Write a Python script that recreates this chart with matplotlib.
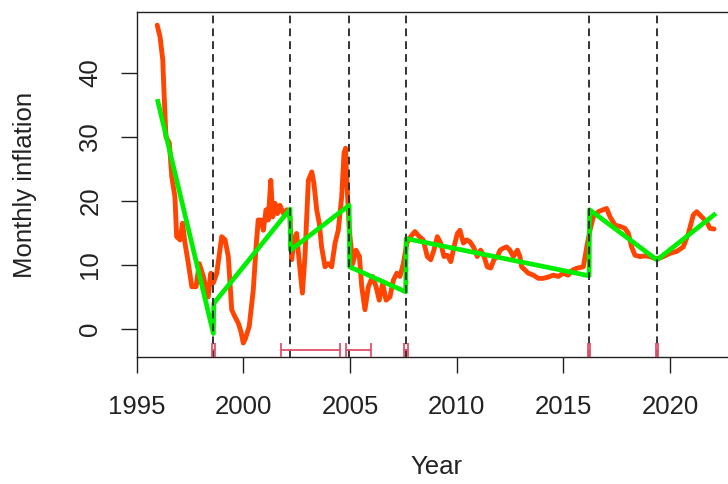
import numpy as np
import matplotlib
matplotlib.use('Agg')
from matplotlib import pyplot as plt

plt.rcParams['font.family'] = ['Liberation Sans', 'DejaVu Sans']

# monthly inflation
year = [1995.97, 1996.10, 1996.23, 1996.29, 1996.38, 1996.54, 1996.65, 1996.80, 1996.88, 1997.04,
        1997.16, 1997.27, 1997.43, 1997.59, 1997.79, 1997.94, 1998.13, 1998.36, 1998.48, 1998.60,
        1998.76, 1998.99, 1999.15, 1999.30, 1999.46, 1999.61, 1999.77, 1999.90, 2000.00, 2000.10,
        2000.28, 2000.47, 2000.60, 2000.70, 2000.82, 2000.94, 2001.07, 2001.17, 2001.29, 2001.38,
        2001.49, 2001.60, 2001.72, 2001.88, 2002.04, 2002.19, 2002.27, 2002.38, 2002.50, 2002.63,
        2002.77, 2002.89, 2003.05, 2003.21, 2003.31, 2003.44, 2003.56, 2003.67, 2003.83, 2003.98,
        2004.14, 2004.30, 2004.45, 2004.61, 2004.72, 2004.79, 2004.85, 2004.97, 2005.13, 2005.28,
        2005.44, 2005.55, 2005.70, 2005.86, 2006.06, 2006.22, 2006.37, 2006.53, 2006.69, 2006.87,
        2007.03, 2007.19, 2007.34, 2007.50, 2007.66, 2007.84, 2008.04, 2008.25, 2008.43, 2008.62,
        2008.78, 2008.93, 2009.09, 2009.25, 2009.40, 2009.56, 2009.72, 2009.87, 2010.03, 2010.15,
        2010.31, 2010.47, 2010.62, 2010.78, 2010.96, 2011.12, 2011.28, 2011.43, 2011.59, 2011.74,
        2011.90, 2012.03, 2012.18, 2012.34, 2012.49, 2012.65, 2012.84, 2012.96, 2013.04, 2013.20,
        2013.35, 2013.59, 2013.82, 2014.05, 2014.29, 2014.52, 2014.76, 2014.99, 2015.22, 2015.43,
        2015.65, 2015.93, 2016.09, 2016.24, 2016.40, 2016.63, 2016.86, 2017.02, 2017.18, 2017.41,
        2017.65, 2017.88, 2018.04, 2018.19, 2018.35, 2018.58, 2018.82, 2019.05, 2019.29, 2019.44,
        2019.68, 2019.99, 2020.30, 2020.61, 2020.85, 2021.08, 2021.24, 2021.47, 2021.71, 2021.86,
        2022.05]
inflation = [47.4, 45.6, 42.0, 36.8, 30.0, 29.0, 23.8, 20.6, 14.4, 13.9,
             16.5, 13.4, 10.2, 6.6, 6.6, 10.2, 8.2, 5.0, 8.7, 7.2,
             8.7, 14.4, 13.9, 11.3, 3.0, 1.9, 0.9, -0.5, -2.2, -1.5,
             0.4, 6.1, 12.8, 17.0, 17.0, 15.4, 18.6, 17.0, 23.2, 17.5,
             19.6, 18.0, 19.3, 18.0, 18.6, 17.5, 10.8, 13.9, 14.9, 10.2,
             5.6, 11.3, 23.2, 24.5, 22.7, 18.6, 16.5, 12.8, 9.7, 10.2,
             9.7, 13.4, 15.4, 20.6, 27.4, 28.2, 23.2, 15.4, 10.2, 12.3,
             11.3, 6.6, 3.0, 6.6, 8.2, 6.6, 4.5, 7.1, 4.5, 5.0,
             7.6, 8.7, 8.2, 10.2, 13.4, 14.4, 15.2, 14.4, 13.9, 11.3,
             10.8, 12.3, 14.4, 13.4, 11.3, 11.5, 10.5, 12.8, 14.9, 15.4,
             13.4, 13.9, 13.6, 12.8, 11.3, 12.3, 11.3, 9.7, 9.5, 10.8,
             11.3, 12.3, 12.6, 12.8, 12.3, 11.3, 12.3, 11.3, 9.7, 9.2,
             8.7, 8.4, 7.9, 7.9, 8.1, 8.4, 8.2, 8.7, 8.4, 9.2,
             9.5, 9.7, 12.8, 15.4, 17.5, 18.3, 18.6, 18.8, 17.5, 16.2,
             16.0, 15.7, 14.9, 12.8, 11.5, 11.3, 11.4, 11.3, 11.0, 11.0,
             11.3, 11.8, 12.1, 12.8, 14.9, 17.8, 18.3, 17.5, 16.7, 15.7,
             15.6]

# segmented trend fit
seg_start = [1996.0, 1998.62, 2002.21, 2004.98, 2007.63, 2016.22, 2019.39]
seg_end = [1998.6, 2002.19, 2004.96, 2007.61, 2016.2, 2019.37, 2022.05]
fit_start = [35.5, 4.0, 12.3, 9.7, 14.1, 18.6, 10.8]
fit_end = [-0.7, 18.7, 19.3, 5.8, 8.3, 10.8, 17.8]

# breakpoints with confidence intervals
breaks = [1998.6, 2002.19, 2004.96, 2007.61, 2016.2, 2019.37]
ci_low = [1998.53, 2001.76, 2004.83, 2007.55, 2016.15, 2019.32]
ci_high = [1998.68, 2004.53, 2006.0, 2007.72, 2016.25, 2019.42]

fig = plt.figure(figsize=(7.28, 4.84), dpi=100)
ax = fig.add_axes([136.5 / 728, 127 / 484, 599.5 / 728, 345 / 484])

ax.plot(year, inflation, color='#FF4500', lw=3.5, solid_joinstyle='round',
        solid_capstyle='round', zorder=2)

fx, fy = [], []
for s, e, a, b in zip(seg_start, seg_end, fit_start, fit_end):
    fx += [s, e]
    fy += [a, b]
ax.plot(fx, fy, color='#00EE00', lw=3.4, zorder=3)

for b in breaks:
    ax.axvline(b, color='#333333', lw=1.4, dashes=(4, 2.6), zorder=4)

b = np.array(breaks)
ax.errorbar(b, np.full(len(b), -3.3),
            xerr=[b - np.array(ci_low), np.array(ci_high) - b],
            fmt='none', ecolor='#DF536B', elinewidth=1.3, capsize=5, capthick=1.3, zorder=5)

ax.set_xlim(1995.0, 2023.08)
ax.set_ylim(-4.37, 49.45)
ax.set_xticks([1995, 2000, 2005, 2010, 2015, 2020])
ax.set_yticks([0, 10, 20, 30, 40])
ax.tick_params(labelsize=18.5, length=11.5, width=1, direction='out', colors='#222222')
ax.tick_params(axis='x', pad=16)
ax.tick_params(axis='y', pad=13)
for t in ax.get_yticklabels():
    t.set_rotation(90)
    t.set_va('center')

for s in ax.spines.values():
    s.set_linewidth(1.0)
    s.set_color('#222222')

ax.set_xlabel('Year', fontsize=18.5, color='#222222', va='center')
ax.set_ylabel('Monthly inflation', fontsize=18.5, color='#222222', va='center')
ax.xaxis.set_label_coords((436 - 136.5) / 599.5, (357 - 467) / 345)
ax.yaxis.set_label_coords((25 - 136.5) / 599.5, 0.5)

fig.savefig('out.png', dpi=100)
